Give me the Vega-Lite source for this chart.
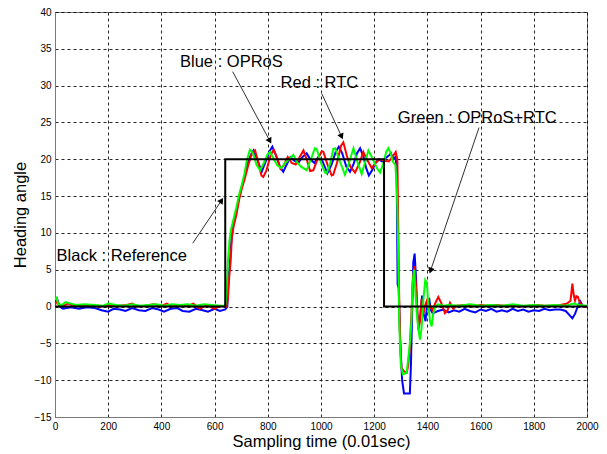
{
  "$schema": "https://vega.github.io/schema/vega-lite/v6.json",
  "width": 532,
  "height": 405,
  "autosize": "none",
  "padding": {"left": 55, "top": 12, "right": 20, "bottom": 37},
  "background": "white",
  "config": {
    "view": {"stroke": "#7a7a7a", "strokeWidth": 1},
    "axis": {
      "labelFont": "Liberation Sans", "labelFontSize": 10, "labelColor": "black",
      "titleFont": "Liberation Sans", "titleFontSize": 16.5, "titleFontWeight": "normal", "titleColor": "black",
      "grid": true, "gridColor": "black", "gridDash": [3, 3], "gridOpacity": 0.85, "gridWidth": 1,
      "domainColor": "#7a7a7a", "ticks": false, "labelPadding": 4,
      "labelOverlap": false, "labelFlush": false, "format": "d"
    }
  },
  "datasets": {
    "blue": [
      {"t":0,"v":0.5},{"t":8,"v":1},{"t":18,"v":0},{"t":30,"v":-0.3},{"t":60,"v":-0.1},{"t":90,"v":-0.3},{"t":120,"v":-0.1},{"t":150,"v":-0.2},{"t":175,"v":-0.5},{"t":200,"v":-0.7},{"t":220,"v":-0.3},{"t":245,"v":-0.4},{"t":265,"v":-0.6},{"t":290,"v":-0.2},{"t":315,"v":-0.5},{"t":340,"v":-0.6},{"t":365,"v":-0.2},{"t":390,"v":-0.4},{"t":410,"v":-0.7},{"t":435,"v":-0.3},{"t":460,"v":-0.2},{"t":480,"v":-0.6},{"t":505,"v":-0.7},{"t":530,"v":-0.3},{"t":555,"v":-0.5},{"t":575,"v":-0.7},{"t":600,"v":-0.3},{"t":620,"v":-0.6},{"t":640,"v":-0.4},{"t":648,"v":0},{"t":652,"v":4},{"t":657,"v":5.5},{"t":662,"v":8.5},{"t":670,"v":11},{"t":680,"v":12.5},{"t":690,"v":14.5},{"t":700,"v":16},{"t":712,"v":17.5},{"t":725,"v":19.5},{"t":735,"v":20.5},{"t":746,"v":21.2},{"t":760,"v":20},{"t":777,"v":18.3},{"t":790,"v":19.5},{"t":805,"v":21},{"t":817,"v":21.7},{"t":830,"v":20.6},{"t":845,"v":19},{"t":858,"v":18.3},{"t":870,"v":19.2},{"t":885,"v":20.3},{"t":900,"v":19.8},{"t":915,"v":19.5},{"t":930,"v":20.3},{"t":946,"v":20.8},{"t":960,"v":20},{"t":975,"v":19.5},{"t":990,"v":20.3},{"t":1005,"v":19.8},{"t":1024,"v":18.1},{"t":1040,"v":19.3},{"t":1055,"v":21},{"t":1067,"v":21.7},{"t":1080,"v":20.8},{"t":1095,"v":19},{"t":1109,"v":18.3},{"t":1122,"v":19.3},{"t":1135,"v":20.8},{"t":1147,"v":21.5},{"t":1160,"v":20.3},{"t":1170,"v":18.8},{"t":1180,"v":17.8},{"t":1192,"v":18.5},{"t":1205,"v":19.5},{"t":1216,"v":20},{"t":1230,"v":19.7},{"t":1245,"v":20.2},{"t":1255,"v":20.5},{"t":1263,"v":20.8},{"t":1272,"v":20},{"t":1280,"v":20.3},{"t":1284,"v":19},{"t":1286,"v":12},{"t":1288,"v":3},{"t":1292,"v":2.5},{"t":1298,"v":-5},{"t":1305,"v":-10},{"t":1312,"v":-11.8},{"t":1334,"v":-11.8},{"t":1338,"v":-8},{"t":1342,"v":-2},{"t":1347,"v":6},{"t":1352,"v":7.2},{"t":1357,"v":4},{"t":1362,"v":-1},{"t":1368,"v":-2.5},{"t":1374,"v":-1},{"t":1380,"v":1.5},{"t":1386,"v":-1},{"t":1393,"v":-2},{"t":1400,"v":0.8},{"t":1407,"v":1},{"t":1413,"v":-0.5},{"t":1420,"v":-0.9},{"t":1440,"v":-0.6},{"t":1460,"v":-0.4},{"t":1480,"v":-0.8},{"t":1500,"v":-0.5},{"t":1520,"v":-0.7},{"t":1540,"v":-0.3},{"t":1560,"v":-0.6},{"t":1580,"v":-0.8},{"t":1600,"v":-0.4},{"t":1620,"v":-0.6},{"t":1640,"v":-0.3},{"t":1660,"v":-0.7},{"t":1680,"v":-0.5},{"t":1700,"v":-0.7},{"t":1720,"v":-0.3},{"t":1740,"v":-0.6},{"t":1760,"v":-0.4},{"t":1780,"v":-0.7},{"t":1800,"v":-0.5},{"t":1820,"v":-0.6},{"t":1840,"v":-0.3},{"t":1860,"v":-0.5},{"t":1880,"v":-0.4},{"t":1900,"v":-0.4},{"t":1920,"v":-0.6},{"t":1935,"v":-1.2},{"t":1945,"v":-1.6},{"t":1955,"v":-1},{"t":1965,"v":0},{"t":1975,"v":0.7},{"t":1985,"v":0},{"t":2000,"v":0}
    ],
    "red": [
      {"t":0,"v":0.2},{"t":8,"v":0.8},{"t":15,"v":0.2},{"t":30,"v":0.1},{"t":50,"v":0.4},{"t":70,"v":0.1},{"t":100,"v":0.2},{"t":140,"v":0.1},{"t":170,"v":0},{"t":200,"v":0.2},{"t":240,"v":0.1},{"t":270,"v":0.2},{"t":290,"v":0.4},{"t":310,"v":0},{"t":340,"v":0.1},{"t":370,"v":0.3},{"t":400,"v":0.1},{"t":420,"v":0.4},{"t":440,"v":0},{"t":470,"v":0.2},{"t":500,"v":0.1},{"t":520,"v":0.4},{"t":545,"v":-0.3},{"t":570,"v":0.2},{"t":600,"v":-0.3},{"t":620,"v":0.1},{"t":645,"v":0},{"t":650,"v":1},{"t":655,"v":4},{"t":660,"v":6},{"t":665,"v":9.5},{"t":672,"v":11},{"t":682,"v":12.5},{"t":692,"v":14.5},{"t":702,"v":16},{"t":712,"v":17.2},{"t":725,"v":19},{"t":740,"v":20.8},{"t":752,"v":21.2},{"t":765,"v":19.5},{"t":776,"v":17.8},{"t":783,"v":17.6},{"t":795,"v":18.5},{"t":810,"v":20.5},{"t":822,"v":21.3},{"t":835,"v":20.2},{"t":848,"v":18.7},{"t":860,"v":19.2},{"t":875,"v":20.3},{"t":890,"v":19.5},{"t":905,"v":19.3},{"t":920,"v":20.3},{"t":934,"v":21.2},{"t":948,"v":19.8},{"t":959,"v":18.4},{"t":971,"v":18.5},{"t":985,"v":19.8},{"t":1003,"v":21.1},{"t":1009,"v":21},{"t":1025,"v":19.2},{"t":1040,"v":17.8},{"t":1046,"v":17.9},{"t":1060,"v":19.5},{"t":1075,"v":21.8},{"t":1084,"v":22.3},{"t":1097,"v":20.5},{"t":1110,"v":19},{"t":1128,"v":18.2},{"t":1145,"v":19.5},{"t":1159,"v":21},{"t":1172,"v":20},{"t":1191,"v":18.8},{"t":1205,"v":19.5},{"t":1220,"v":20},{"t":1240,"v":19.8},{"t":1255,"v":19.7},{"t":1268,"v":20.3},{"t":1281,"v":21},{"t":1287,"v":20},{"t":1290,"v":12},{"t":1293,"v":3},{"t":1297,"v":-4},{"t":1302,"v":-8.3},{"t":1312,"v":-8.8},{"t":1322,"v":-9},{"t":1328,"v":-8},{"t":1334,"v":-5.5},{"t":1340,"v":-1},{"t":1346,"v":4},{"t":1352,"v":5.5},{"t":1360,"v":1},{"t":1366,"v":-3.2},{"t":1372,"v":-2},{"t":1378,"v":1},{"t":1384,"v":-1},{"t":1390,"v":0},{"t":1398,"v":0.8},{"t":1405,"v":-0.5},{"t":1412,"v":0},{"t":1420,"v":-0.5},{"t":1430,"v":0.5},{"t":1441,"v":1.3},{"t":1452,"v":0.5},{"t":1466,"v":-0.9},{"t":1476,"v":-0.5},{"t":1485,"v":0.5},{"t":1497,"v":-0.3},{"t":1510,"v":0.1},{"t":1540,"v":0.2},{"t":1570,"v":0},{"t":1600,"v":0.2},{"t":1630,"v":0.1},{"t":1660,"v":0.2},{"t":1690,"v":0.1},{"t":1720,"v":0.2},{"t":1750,"v":0},{"t":1780,"v":0.1},{"t":1810,"v":0.2},{"t":1840,"v":0.1},{"t":1870,"v":0.1},{"t":1900,"v":0.2},{"t":1925,"v":0.4},{"t":1938,"v":0.8},{"t":1945,"v":3.1},{"t":1950,"v":1.6},{"t":1955,"v":0.8},{"t":1960,"v":1.4},{"t":1966,"v":1.3},{"t":1973,"v":0.5},{"t":1985,"v":0},{"t":2000,"v":0}
    ],
    "green": [
      {"t":0,"v":1},{"t":6,"v":1.2},{"t":12,"v":0.3},{"t":25,"v":0.2},{"t":40,"v":0.6},{"t":60,"v":0.4},{"t":80,"v":0.2},{"t":110,"v":0.3},{"t":150,"v":0.2},{"t":180,"v":0.1},{"t":200,"v":0.4},{"t":230,"v":0.2},{"t":260,"v":0.1},{"t":290,"v":0.3},{"t":320,"v":0.1},{"t":350,"v":0.2},{"t":380,"v":0.3},{"t":410,"v":0.1},{"t":440,"v":0.3},{"t":470,"v":0.2},{"t":500,"v":0.3},{"t":530,"v":0.1},{"t":560,"v":0.3},{"t":590,"v":0.2},{"t":620,"v":0.1},{"t":640,"v":0.1},{"t":645,"v":2},{"t":650,"v":6},{"t":656,"v":9},{"t":662,"v":10.5},{"t":672,"v":12},{"t":682,"v":13.5},{"t":692,"v":15.2},{"t":702,"v":16.5},{"t":712,"v":18},{"t":722,"v":20},{"t":733,"v":21.3},{"t":745,"v":20.8},{"t":758,"v":19.2},{"t":771,"v":18.5},{"t":785,"v":19.5},{"t":798,"v":20.6},{"t":808,"v":21},{"t":820,"v":20.2},{"t":835,"v":19.2},{"t":850,"v":18.8},{"t":865,"v":19.5},{"t":880,"v":20},{"t":896,"v":20.6},{"t":910,"v":19.6},{"t":925,"v":19},{"t":946,"v":18.5},{"t":962,"v":20},{"t":977,"v":21.5},{"t":984,"v":21.4},{"t":1000,"v":19.5},{"t":1015,"v":18.2},{"t":1021,"v":18.1},{"t":1035,"v":19.5},{"t":1046,"v":21.4},{"t":1053,"v":21.5},{"t":1070,"v":19.8},{"t":1090,"v":17.9},{"t":1105,"v":19.5},{"t":1122,"v":21.5},{"t":1138,"v":19.5},{"t":1153,"v":18},{"t":1165,"v":19.5},{"t":1178,"v":21.2},{"t":1195,"v":20},{"t":1210,"v":18.8},{"t":1222,"v":18.2},{"t":1235,"v":19.5},{"t":1245,"v":21},{"t":1253,"v":21.5},{"t":1262,"v":20.8},{"t":1270,"v":19.7},{"t":1280,"v":19.2},{"t":1286,"v":15},{"t":1290,"v":8},{"t":1294,"v":-2},{"t":1300,"v":-8},{"t":1308,"v":-9.2},{"t":1322,"v":-9},{"t":1328,"v":-7},{"t":1334,"v":-5},{"t":1340,"v":-2},{"t":1344,"v":3},{"t":1350,"v":5},{"t":1355,"v":2},{"t":1360,"v":-1},{"t":1366,"v":-3},{"t":1372,"v":-4.5},{"t":1378,"v":-3},{"t":1385,"v":1},{"t":1392,"v":3.6},{"t":1398,"v":3.2},{"t":1404,"v":0},{"t":1410,"v":-2},{"t":1416,"v":-2.7},{"t":1422,"v":-1},{"t":1429,"v":0},{"t":1440,"v":0.3},{"t":1460,"v":0.1},{"t":1480,"v":0.2},{"t":1520,"v":0.1},{"t":1560,"v":0.3},{"t":1600,"v":0.1},{"t":1640,"v":0.2},{"t":1680,"v":0.1},{"t":1720,"v":0.3},{"t":1760,"v":0.1},{"t":1800,"v":0.2},{"t":1840,"v":0.1},{"t":1880,"v":0.2},{"t":1920,"v":0.1},{"t":1950,"v":0.4},{"t":1970,"v":0.2},{"t":2000,"v":0.1}
    ],
    "ref": [
      {"k":1,"t":0,"v":0},{"k":2,"t":640,"v":0},{"k":3,"t":640,"v":20},{"k":4,"t":1237,"v":20},{"k":5,"t":1237,"v":0},{"k":6,"t":2000,"v":0}
    ],
    "arrows": [
      {"x":668,"y":31.9,"x2":806,"y2":22.6,"ang":152},
      {"x":1003,"y":28.9,"x2":1076,"y2":23.2,"ang":155.6},
      {"x":1594,"y":24.3,"x2":1413,"y2":5.0,"ang":198.5},
      {"x":518,"y":8.6,"x2":624,"y2":14.3,"ang":33.4}
    ],
    "labels": [
      {"x":470,"y":33.2,"txt":"Blue : OPRoS"},
      {"x":848,"y":30.3,"txt":"Red : RTC"},
      {"x":1289,"y":25.6,"txt":"Green : OPRoS+RTC"},
      {"x":6,"y":6.9,"txt":"Black : Reference"}
    ]
  },
  "layer": [
    {
      "data": {"name": "blue"},
      "mark": {"type": "line", "color": "#0000ff", "strokeWidth": 2, "clip": true},
      "encoding": {
        "x": {"field": "t", "type": "quantitative", "scale": {"domain": [0, 2000], "nice": false}, "axis": {"values": [0,200,400,600,800,1000,1200,1400,1600,1800,2000], "tickCount": 20, "title": "Sampling time (0.01sec)", "titlePadding": 2}},
        "y": {"field": "v", "type": "quantitative", "scale": {"domain": [-15, 40], "nice": false}, "axis": {"values": [-15,-10,-5,0,5,10,15,20,25,30,35,40], "tickCount": 20, "title": "Heading angle", "titlePadding": 6}}
      }
    },
    {
      "data": {"name": "red"},
      "mark": {"type": "line", "color": "#ff0000", "strokeWidth": 2, "clip": true},
      "encoding": {"x": {"field": "t", "type": "quantitative"}, "y": {"field": "v", "type": "quantitative"}}
    },
    {
      "data": {"name": "green"},
      "mark": {"type": "line", "color": "#00ff00", "strokeWidth": 2, "clip": true},
      "encoding": {"x": {"field": "t", "type": "quantitative"}, "y": {"field": "v", "type": "quantitative"}}
    },
    {
      "data": {"name": "ref"},
      "mark": {"type": "line", "color": "black", "strokeWidth": 2, "clip": true},
      "encoding": {"x": {"field": "t", "type": "quantitative"}, "y": {"field": "v", "type": "quantitative"}, "order": {"field": "k"}}
    },
    {
      "data": {"name": "arrows"},
      "mark": {"type": "rule", "color": "#303030", "strokeWidth": 1},
      "encoding": {"x": {"field": "x", "type": "quantitative"}, "y": {"field": "y", "type": "quantitative"}, "x2": {"field": "x2"}, "y2": {"field": "y2"}}
    },
    {
      "data": {"name": "arrows"},
      "mark": {"type": "point", "shape": "triangle", "filled": true, "color": "black", "size": 45, "opacity": 1},
      "encoding": {"x": {"field": "x2", "type": "quantitative"}, "y": {"field": "y2", "type": "quantitative"}, "angle": {"field": "ang", "type": "quantitative", "scale": null}}
    },
    {
      "data": {"name": "labels"},
      "mark": {"type": "text", "align": "left", "baseline": "middle", "font": "Liberation Sans", "fontSize": 16.5, "color": "black"},
      "encoding": {"x": {"field": "x", "type": "quantitative"}, "y": {"field": "y", "type": "quantitative"}, "text": {"field": "txt"}}
    }
  ]
}
